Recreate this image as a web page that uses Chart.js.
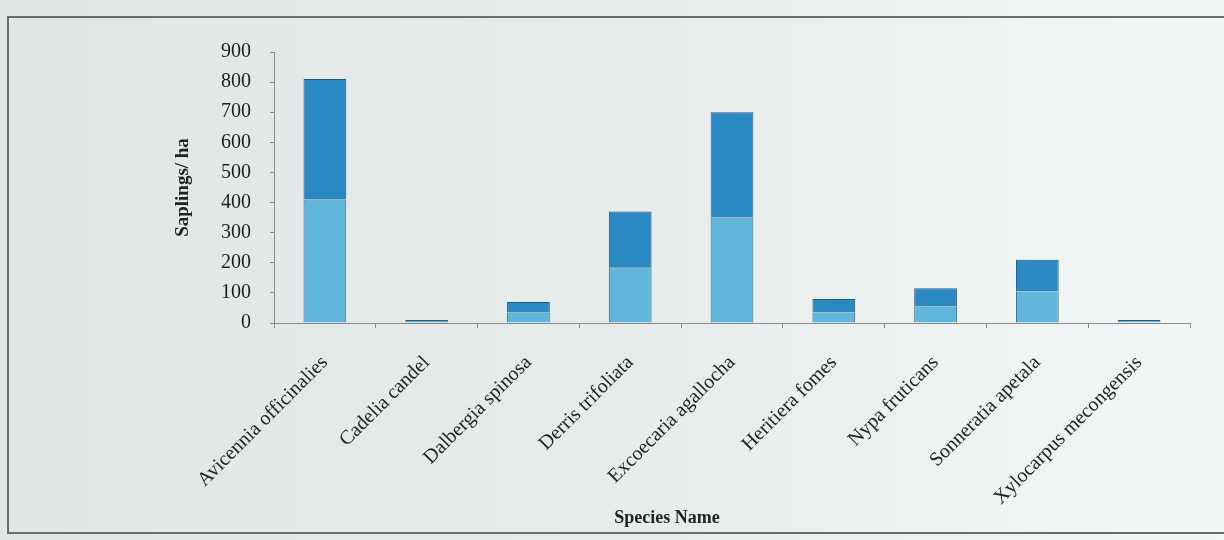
<!DOCTYPE html>
<html>
<head>
<meta charset="utf-8">
<script src="https://cdn.jsdelivr.net/npm/chart.js@4/dist/chart.umd.min.js"></script>
<style>
    body { margin: 0; background: #e7ebeb; }
    #wrap { position: relative; width: 1224px; height: 540px; background: linear-gradient(90deg, #e1e5e5 0%, #e8ecec 55%, #f4f7f7 100%); }
    #frame { position: absolute; left: 7px; top: 16px; width: 1230px; height: 518px; border: 2px solid #6a6d6e; box-sizing: border-box; }
    #chart { position: absolute; left: 0; top: 0; }
</style>
</head>
<body>
<div id="wrap">
    <div id="frame"></div>
    <canvas id="chart" width="1224" height="540"></canvas>
</div>
<script>
const species = [
    "Avicennia officinalies", "Cadelia candel", "Dalbergia spinosa", "Derris trifoliata",
    "Excoecaria agallocha", "Heritiera fomes", "Nypa fruticans", "Sonneratia apetala",
    "Xylocarpus mecongensis"
];
const lowerPart = [410, 4, 35, 185, 350, 35, 55, 105, 4];
const upperPart = [400, 6, 35, 185, 350, 45, 60, 105, 6];
const yTicks = [0, 100, 200, 300, 400, 500, 600, 700, 800, 900];
const xTitle = "Species Name";

Chart.defaults.font.family = "'Liberation Serif', 'Times New Roman', serif";
Chart.defaults.color = "#222";

const ctx = document.getElementById("chart");

// x title sits a little left of the axis centre in the original
const xTitlePlugin = {
    id: 'xTitle',
    afterDraw(chart) {
        const c = chart.ctx;
        c.save();
        c.font = "bold 18px 'Liberation Serif', 'Times New Roman', serif";
        c.fillStyle = '#222';
        c.textAlign = 'center';
        c.textBaseline = 'middle';
        c.fillText(xTitle, 667, 518);
        c.restore();
    }
};

const config = {
    type: 'bar',
    data: {
        labels: species,
        datasets: [{
            label: 'Lower',
            data: lowerPart,
            backgroundColor: '#60b6db',
            borderColor: '#2c6f8f',
            borderWidth: 1,
            barPercentage: 0.42,
            categoryPercentage: 1
        }, {
            label: 'Upper',
            data: upperPart,
            backgroundColor: '#2a88c2',
            borderColor: '#1f5c7e',
            borderWidth: 1,
            barPercentage: 0.42,
            categoryPercentage: 1
        }]
    },
    options: {
        animation: false,
        responsive: false,
        plugins: {
            legend: { display: false },
            tooltip: { enabled: false }
        },
        layout: {
            padding: { left: 172, top: 52, right: 34, bottom: 8 }
        },
        scales: {
            y: {
                stacked: true,
                min: 0,
                max: 900,
                afterBuildTicks: (axis) => { axis.ticks = yTicks.map(v => ({ value: v })); },
                afterFit: (scale) => { scale.width = 102; },
                border: { display: true, color: '#8a8c8c', width: 1 },
                grid: { drawOnChartArea: false, drawTicks: true, tickLength: 4, color: '#8a8c8c' },
                ticks: { font: { size: 20 }, padding: 19, color: '#1e1e1e' },
                title: {
                    display: true,
                    text: 'Saplings/ ha',
                    font: { size: 19, weight: 'bold' },
                    color: '#222',
                    padding: { top: 0, bottom: 22 }
                }
            },
            x: {
                stacked: true,
                afterFit: (scale) => { scale.height = 209; },
                border: { display: true, color: '#8a8c8c', width: 1 },
                grid: { offset: true, drawOnChartArea: false, drawTicks: true, tickLength: 5, color: '#8a8c8c' },
                ticks: { font: { size: 20 }, minRotation: 45, maxRotation: 45, padding: 23, color: '#222' }
            }
        }
    },
    plugins: [xTitlePlugin]
};

new Chart(ctx, config);
</script>
</body>
</html>
